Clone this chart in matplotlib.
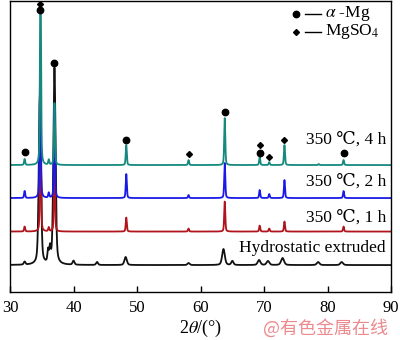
import matplotlib
matplotlib.use("Agg")
import matplotlib.pyplot as plt
import numpy as np

plt.rcParams["mathtext.fontset"] = "stix"

# peak lists: 2theta, height, width (FWHM, deg)
ext_pos = [32.3, 34.7, 36.0, 36.3, 37.0, 40.0, 43.7, 48.2, 58.1, 63.6, 65.0, 69.2, 70.6, 72.9, 78.5, 82.2]
ext_h   = [3, 168, 12, 14, 197, 4, 3, 8, 2, 16, 4, 5, 4, 7, 3, 3]
ext_w   = [0.3, 0.4, 0.25, 0.25, 0.4, 0.35, 0.35, 0.45, 0.4, 0.5, 0.4, 0.5, 0.5, 0.55, 0.5, 0.5]

h1_pos = [32.3, 34.8, 36.1, 37.0, 48.3, 58.1, 63.8, 69.3, 70.8, 73.2, 82.5]
h1_h   = [5, 110, 4, 70, 14, 3, 30, 6, 3, 10, 5]

h2_pos = [32.3, 34.75, 36.1, 37.0, 48.3, 58.1, 63.8, 69.3, 70.8, 73.2, 82.5]
h2_h   = [7, 140, 5, 90, 24, 3, 35, 8, 4, 18, 7]

h4_pos = [32.3, 34.8, 36.1, 37.0, 48.3, 58.1, 63.8, 69.3, 70.8, 73.2, 78.6, 82.5]
h4_h   = [6, 200, 5, 62, 20, 5, 47, 8, 3, 20, 1, 5]

offsets = [0, 33.5, 67, 100]
labels = ["Hydrostatic extruded", "350 \u2103, 1 h", "350 \u2103, 2 h", "350 \u2103, 4 h"]
colors = ["#111111", "#b0141c", "#1a1ae6", "#16897f"]

# phase markers above the 4 h pattern
mg_x = [32.3, 34.8, 37.0, 48.3, 63.8, 69.3, 82.5]
mg_y = [113.5, 255.5, 202.5, 125.5, 153.5, 112.5, 112.5]
so4_x = [34.8, 58.1, 69.3, 70.8, 73.2]
so4_y = [261.5, 111.5, 120.5, 108.5, 125.5]

serif = ["Liberation Serif", "DejaVu Serif"]

x = np.linspace(30, 90, 4000)

def pattern(pos, h, w):
    y = np.zeros_like(x)
    for p, a, fw in zip(pos, h, w):
        g = np.exp(-4 * np.log(2) * ((x - p) / fw) ** 2)
        l = 1 / (1 + 4 * ((x - p) / fw) ** 2)
        y += a * (0.6 * g + 0.4 * l)
    return y

narrow = 0.2
data = [
    pattern(ext_pos, ext_h, ext_w),
    pattern(h1_pos, h1_h, [narrow] * len(h1_pos)),
    pattern(h2_pos, h2_h, [narrow] * len(h2_pos)),
    pattern(h4_pos, h4_h, [narrow] * len(h4_pos)),
]

fig = plt.figure(figsize=(4, 3.4), dpi=100)
ax = fig.add_axes([0.025, 0.141, 0.953, 0.856])

for y, off, c in zip(data, offsets, colors):
    ax.plot(x, y + off, color=c, lw=1.3)

ax.plot(mg_x, mg_y, "o", color="k", ms=4.6, ls="none")
ax.plot(so4_x, so4_y, "D", color="k", ms=3, ls="none")

label_y = [17, 47, 83, 125]
for ly, t in zip(label_y, labels):
    ax.text(89.2, ly, t, ha="right", va="center", fontsize=12.5, family=serif)

# legend
ax.plot([75.0], [251], "o", color="k", ms=4.6)
ax.plot([75.0], [233], "D", color="k", ms=3)
ax.plot([76.4, 78.9], [251, 251], color="k", lw=1)
ax.plot([76.4, 78.9], [233, 233], color="k", lw=1)
ax.text(79.6, 252, r"$\alpha$ -Mg", ha="left", va="center", fontsize=12.5, family=serif)
ax.text(79.6, 234, r"MgSO$_4$", ha="left", va="center", fontsize=12.5, family=serif)

ax.set_xlim(30, 90)
ax.set_ylim(-27, 264)
ax.set_xticks([30, 40, 50, 60, 70, 80, 90])
ax.set_yticks([])
ax.tick_params(axis="x", direction="in", length=4, width=1, labelsize=12, pad=6)
for lab in ax.get_xticklabels():
    lab.set_family(serif)
for s in ax.spines.values():
    s.set_linewidth(1)

ax.set_xlabel(r"2$\theta$/(°)", fontsize=13, family=serif, labelpad=1)

fig.text(0.97, 0.035, "@有色金属在线", ha="right", va="center", fontsize=13,
         color="#ec8a8e", family=["Noto Sans CJK SC"])

fig.savefig("out.png", dpi=100)
